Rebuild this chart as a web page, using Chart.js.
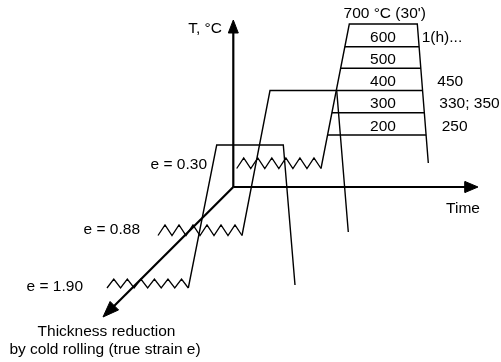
<!DOCTYPE html>
<html>
<head>
<meta charset="utf-8">
<script src="https://cdn.jsdelivr.net/npm/chart.js@4/dist/chart.umd.min.js"></script>
<style>
  body { margin: 0; background: #fff; }
</style>
</head>
<body>
<canvas id="chartArea" width="501" height="362"></canvas>
<script>
// Diagram units: x to the right, y downwards, 501 x 362.
var origin = [233.3, 187];
var tempAxisTip = [233.3, 20];
var timeAxisTip = [478, 187];
var strainAxisTip = [103, 317];

// true strain after cold rolling
var strainLabels = ['e = 0.30', 'e = 0.88', 'e = 1.90'];
// cold-rolling zigzag for each strain: [xStart, xEnd, yTrough, yPeak]
var rollingZigzags = [
    [236.7, 321, 168.5, 158],
    [158, 242, 235.5, 225],
    [107, 188.3, 288, 279]
];
// heat-up, hold and cool-down after rolling
var annealPaths = [
    [[321, 168.5], [349.3, 24], [417.3, 24], [428.3, 163]],
    [[242, 235.5], [270, 90.5], [336.7, 90.5], [348.3, 232]],
    [[188.3, 288], [216.7, 145], [283.3, 145], [295, 285]]
];

// annealing temperatures (°C) inside the 700 °C block and their hold times
var annealTemps = ['600', '500', '400', '300', '200'];
var annealTempY = [46.7, 68.3, 90.5, 112.7, 135];
var holdTimes = ['1(h)...', '', '450', '330; 350', '250'];

function pts(list) {
    return list.map(function (p) { return { x: p[0], y: p[1] }; });
}

function line(list, width) {
    return {
        data: pts(list),
        showLine: true,
        borderColor: '#000',
        borderWidth: width,
        pointRadius: 0,
        fill: false,
        tension: 0
    };
}

function arrowHead(from, tip, len, half) {
    var dx = tip[0] - from[0], dy = tip[1] - from[1];
    var d = Math.hypot(dx, dy), ux = dx / d, uy = dy / d;
    var bx = tip[0] - ux * len, by = tip[1] - uy * len;
    var tri = [[bx - uy * half, by + ux * half], tip, [bx + uy * half, by - ux * half], [bx - uy * half, by + ux * half]];
    var ds = line(tri, 1);
    ds.fill = 'shape';
    ds.backgroundColor = '#000';
    return ds;
}

function zigzag(z) {
    var out = [];
    for (var k = 0; k <= 12; k++) {
        out.push([z[0] + k * (z[1] - z[0]) / 12, k % 2 ? z[3] : z[2]]);
    }
    return out;
}

// the 700 °C block edges: first rise and last cool-down of the e = 0.30 path
var hot = annealPaths[0];
function edgeX(a, b, y) {
    return a[0] + (b[0] - a[0]) * (y - a[1]) / (b[1] - a[1]);
}

var datasets = [];
rollingZigzags.forEach(function (z) { datasets.push(line(zigzag(z), 1.3)); });
annealPaths.forEach(function (p) { datasets.push(line(p, 1.4)); });
annealTempY.forEach(function (y) {
    datasets.push(line([[edgeX(hot[0], hot[1], y), y], [edgeX(hot[2], hot[3], y), y]], 1.4));
});

// axes: temperature up, time right, rolling strain towards the viewer
[[tempAxisTip, 13, 5], [timeAxisTip, 13, 5.5], [strainAxisTip, 16, 6]].forEach(function (a) {
    var tip = a[0];
    var dx = tip[0] - origin[0], dy = tip[1] - origin[1], d = Math.hypot(dx, dy);
    var end = [tip[0] - dx / d * (a[1] - 1), tip[1] - dy / d * (a[1] - 1)];
    datasets.push(line([origin, end], 2.2));
    datasets.push(arrowHead(origin, tip, a[1], a[2]));
});

var texts = [
    { text: 'T, \u00B0C', x: 222, y: 29, align: 'right' },
    { text: 'Time', x: 463, y: 209, align: 'center' },
    { text: 'Thickness reduction', x: 106.5, y: 332, align: 'center' },
    { text: 'by cold rolling (true strain e)', x: 105, y: 350, align: 'center' },
    { text: '700 \u00B0C (30\')', x: 384.7, y: 14, align: 'center' }
];
var strainLabelAnchor = [[207, 165], [140, 230], [83, 286.5]];
strainLabels.forEach(function (s, i) {
    texts.push({ text: s, x: strainLabelAnchor[i][0], y: strainLabelAnchor[i][1], align: 'right' });
});
var holdX = [421.7, 0, 437.3, 439.3, 441.7];
annealTemps.forEach(function (t, i) {
    texts.push({ text: t, x: 383, y: annealTempY[i] - 8.5, align: 'center' });
    if (holdTimes[i]) {
        texts.push({ text: holdTimes[i], x: holdX[i], y: annealTempY[i] - 8.5, align: 'left' });
    }
});

var labelPlugin = {
    id: 'diagramLabels',
    afterDatasetsDraw: function (chart) {
        var ctx = chart.ctx, xs = chart.scales.x, ys = chart.scales.y;
        ctx.save();
        ctx.fillStyle = '#000';
        ctx.font = '15.5px "Liberation Sans", Arial, sans-serif';
        ctx.textBaseline = 'middle';
        texts.forEach(function (t) {
            ctx.textAlign = t.align;
            ctx.fillText(t.text, xs.getPixelForValue(t.x), ys.getPixelForValue(t.y));
        });
        ctx.restore();
    }
};

var ctx = document.getElementById('chartArea').getContext('2d');
var diagram = new Chart(ctx, {
    type: 'scatter',
    data: { datasets: datasets },
    options: {
        responsive: false,
        animation: false,
        layout: { padding: 0 },
        plugins: { legend: { display: false }, tooltip: { enabled: false } },
        scales: {
            x: { type: 'linear', min: 0, max: 501, display: false },
            y: { type: 'linear', min: 0, max: 362, reverse: true, display: false }
        }
    },
    plugins: [labelPlugin]
});
</script>
</body>
</html>
